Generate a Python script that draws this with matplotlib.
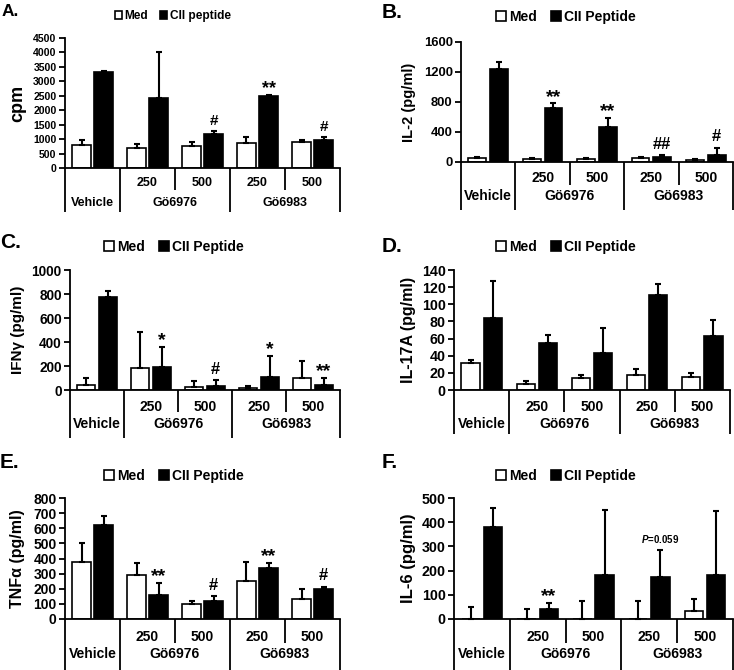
import matplotlib
matplotlib.use("Agg")
import matplotlib.pyplot as plt
from matplotlib.patches import Patch
import numpy as np

plt.rcParams['font.family'] = ['Liberation Sans', 'DejaVu Sans']
plt.rcParams['font.weight'] = 'bold'
plt.rcParams['mathtext.fontset'] = 'custom'
plt.rcParams['mathtext.it'] = 'Liberation Sans:italic:bold'
plt.rcParams['mathtext.rm'] = 'Liberation Sans:bold'
plt.rcParams['mathtext.bf'] = 'Liberation Sans:bold'

W, H, DPI = 734, 670, 100

# ---------------- data ----------------
groups = ["Vehicle", "Gö6976", "Gö6983"]
doses = ["", "250", "500", "250", "500"]

# A: proliferation (cpm)
med_A = [810, 690, 770, 865, 890]
med_A_err = [170, 150, 130, 205, 68]
cii_A = [3330, 2420, 1190, 2480, 980]
cii_A_err = [12, 1580, 80, 50, 80]
sig_A = ["", "", "#", "**", "#"]

# B: IL-2 (pg/ml)
med_B = [50, 45, 40, 55, 30]
med_B_err = [18, 8, 8, 15, 8]
cii_B = [1240, 715, 470, 70, 95]
cii_B_err = [90, 65, 120, 20, 95]
sig_B = ["", "**", "**", "##", "#"]

# C: IFNγ (pg/ml)
med_C = [40, 180, 28, 14, 97]
med_C_err = [60, 305, 50, 22, 145]
cii_C = [775, 195, 36, 105, 42]
cii_C_err = [50, 160, 45, 180, 58]
sig_C = ["", "*", "#", "*", "**"]

# D: IL-17A (pg/ml)
med_D = [31, 7, 14.5, 18, 15]
med_D_err = [4, 3, 3.5, 7, 5]
cii_D = [84, 55, 43, 111, 63]
cii_D_err = [43, 9, 29, 13, 19]
sig_D = ["", "", "", "", ""]

# E: TNFα (pg/ml)
med_E = [375, 292, 97, 252, 135]
med_E_err = [130, 81, 22, 128, 62]
cii_E = [624, 159, 119, 336, 197]
cii_E_err = [58, 78, 33, 33, 17]
sig_E = ["", "**", "#", "**", "#"]

# F: IL-6 (pg/ml)
med_F = [0, 0, 0, 0, 33]
med_F_err = [51, 40, 76, 76, 49]
cii_F = [380, 41, 181, 172, 181]
cii_F_err = [80, 24, 268, 112, 265]
sig_F = ["", "**", "", r"$\it{P}$=0.059", ""]

panels = [
    dict(letter="A.", ylabel="cpm", ymax=4500, step=500, cii_name="CII peptide",
         med=med_A, med_err=med_A_err, cii=cii_A, cii_err=cii_A_err, sig=sig_A,
         L=65, R=340, top=38, zero=168, bottom=212, split=190, r1=183, r2=203,
         leg=(173, 16), lab=(2, 12), ylx=18, ylfs=13,
         tickfs=7.6, legfs=8.6, hl=0.6, rowfs=9.0, letfs=12.5, sigfs=13),
    dict(letter="B.", ylabel="IL-2 (pg/ml)", ymax=1600, step=400, cii_name="CII Peptide",
         med=med_B, med_err=med_B_err, cii=cii_B, cii_err=cii_B_err, sig=sig_B,
         L=461, R=733, top=42, zero=162, bottom=210, split=185, r1=178, r2=196,
         leg=(566, 17), lab=(382, 13), ylx=409, ylfs=10.5,
         tickfs=9.4, legfs=10, hl=0.72, rowfs=10, letfs=15, sigfs=14),
    dict(letter="C.", ylabel="IFNγ (pg/ml)", ymax=1000, step=200, cii_name="CII Peptide",
         med=med_C, med_err=med_C_err, cii=cii_C, cii_err=cii_C_err, sig=sig_C,
         L=70, R=340, top=270, zero=390, bottom=438, split=412, r1=407, r2=424,
         leg=(174, 247), lab=(0, 242), ylx=18, ylfs=11,
         tickfs=9.8, legfs=10, hl=0.72, rowfs=10, letfs=15, sigfs=14),
    dict(letter="D.", ylabel="IL-17A (pg/ml)", ymax=140, step=20, cii_name="CII Peptide",
         med=med_D, med_err=med_D_err, cii=cii_D, cii_err=cii_D_err, sig=sig_D,
         L=454, R=730, top=270, zero=390, bottom=434, split=412, r1=407, r2=424,
         leg=(566, 247), lab=(382, 246), ylx=409, ylfs=11.5,
         tickfs=10.3, legfs=10, hl=0.72, rowfs=10, letfs=15, sigfs=14),
    dict(letter="E.", ylabel="TNFα (pg/ml)", ymax=800, step=100, cii_name="CII Peptide",
         med=med_E, med_err=med_E_err, cii=cii_E, cii_err=cii_E_err, sig=sig_E,
         L=65, R=340, top=498, zero=619, bottom=670, split=643, r1=637, r2=654,
         leg=(174, 476), lab=(0, 462), ylx=18, ylfs=11.5,
         tickfs=10, legfs=10, hl=0.72, rowfs=10, letfs=15, sigfs=14),
    dict(letter="F.", ylabel="IL-6 (pg/ml)", ymax=500, step=100, cii_name="CII Peptide",
         med=med_F, med_err=med_F_err, cii=cii_F, cii_err=cii_F_err, sig=sig_F,
         L=454, R=733, top=498, zero=619, bottom=670, split=643, r1=637, r2=654,
         leg=(566, 476), lab=(382, 462), ylx=409, ylfs=12,
         tickfs=10.3, legfs=10, hl=0.72, rowfs=10, letfs=15, sigfs=14),
]

fig = plt.figure(figsize=(W / DPI, H / DPI), dpi=DPI)
LW = 1.3
x = np.arange(len(doses))
off, bw = 0.2, 0.33

for p in panels:
    L, R, top, zero, bottom = p["L"], p["R"], p["top"], p["zero"], p["bottom"]
    ax = fig.add_axes([L / W, 1 - zero / H, (R - L) / W, (zero - top) / H])
    ax.bar(x - off, p["med"], bw, color="white", edgecolor="black", linewidth=1.2, zorder=2)
    ax.bar(x + off, p["cii"], bw, color="black", edgecolor="black", linewidth=1.2, zorder=2)
    z = np.zeros(len(x))
    ax.errorbar(x - off, p["med"], yerr=[z, p["med_err"]], fmt="none", ecolor="black",
                elinewidth=1.5, capsize=2, capthick=1.5, zorder=3, clip_on=False)
    ax.errorbar(x + off, p["cii"], yerr=[z, p["cii_err"]], fmt="none", ecolor="black",
                elinewidth=1.5, capsize=2, capthick=1.5, zorder=3, clip_on=False)
    ax.set_xlim(-0.5, 4.5)
    ax.set_ylim(0, p["ymax"])
    ax.set_yticks(np.arange(0, p["ymax"] + 1, p["step"]))
    ax.set_xticks([])
    for s in ("top", "right"):
        ax.spines[s].set_visible(False)
    for s in ("left", "bottom"):
        ax.spines[s].set_linewidth(LW)
    ax.tick_params(axis="y", direction="out", length=4, width=LW, labelsize=p["tickfs"], pad=2)
    for lbl in ax.get_yticklabels():
        lbl.set_fontweight("bold")

    for i, s in enumerate(p["sig"]):
        if not s:
            continue
        if s.startswith("$"):
            fs, dy = 7, 4
        elif "*" in s:
            fs, dy = p["sigfs"], -1.5
        else:
            fs, dy = p["sigfs"] - 2, 2.5
        ax.annotate(s, (x[i] + off, p["cii"][i] + p["cii_err"][i]),
                    xytext=(0, dy), textcoords="offset points",
                    ha="center", va="bottom", fontsize=fs,
                    fontweight="bold", annotation_clip=False)

    # legend
    handles = [Patch(facecolor="white", edgecolor="black", linewidth=1.2, label="Med"),
               Patch(facecolor="black", edgecolor="black", linewidth=1.2, label=p["cii_name"])]
    ax.legend(handles=handles, loc="center", bbox_to_anchor=(p["leg"][0] / W, 1 - p["leg"][1] / H),
              bbox_transform=fig.transFigure, ncol=2, frameon=False, handlelength=p["hl"],
              handleheight=p["hl"], handletextpad=0.25, columnspacing=1.0,
              prop=dict(size=p["legfs"], weight="bold"), borderpad=0, borderaxespad=0)

    # panel letter
    fig.text(p["lab"][0] / W, 1 - p["lab"][1] / H, p["letter"], fontsize=p["letfs"],
             fontweight="bold", ha="left", va="center")
    # y label
    fig.text(p["ylx"] / W, 1 - (top + zero) / 2 / H, p["ylabel"], fontsize=p["ylfs"],
             fontweight="bold", rotation=90, ha="center", va="center")

    # category table below axis
    tax = fig.add_axes([L / W, 1 - bottom / H, (R - L) / W, (bottom - zero) / H])
    tax.set_xlim(-0.5, 4.5)
    depth = bottom - zero
    tax.set_ylim(depth, 0)
    tax.axis("off")
    tax.vlines([-0.5, 0.5, 2.5, 4.5], 0, depth, colors="black", linewidth=LW, clip_on=False)
    tax.vlines([1.5, 3.5], 0, p["split"] - zero, colors="black", linewidth=LW, clip_on=False)
    for i, d in enumerate(doses):
        if d:
            tax.text(x[i], p["r1"] - zero, d, ha="center", va="center", fontsize=p["rowfs"],
                     fontweight="bold")
    gpos = [0, 1.5, 3.5]
    for g, gx in zip(groups, gpos):
        tax.text(gx, p["r2"] - zero, g, ha="center", va="center", fontsize=p["rowfs"],
                 fontweight="bold")

fig.savefig("out.png", dpi=DPI)
